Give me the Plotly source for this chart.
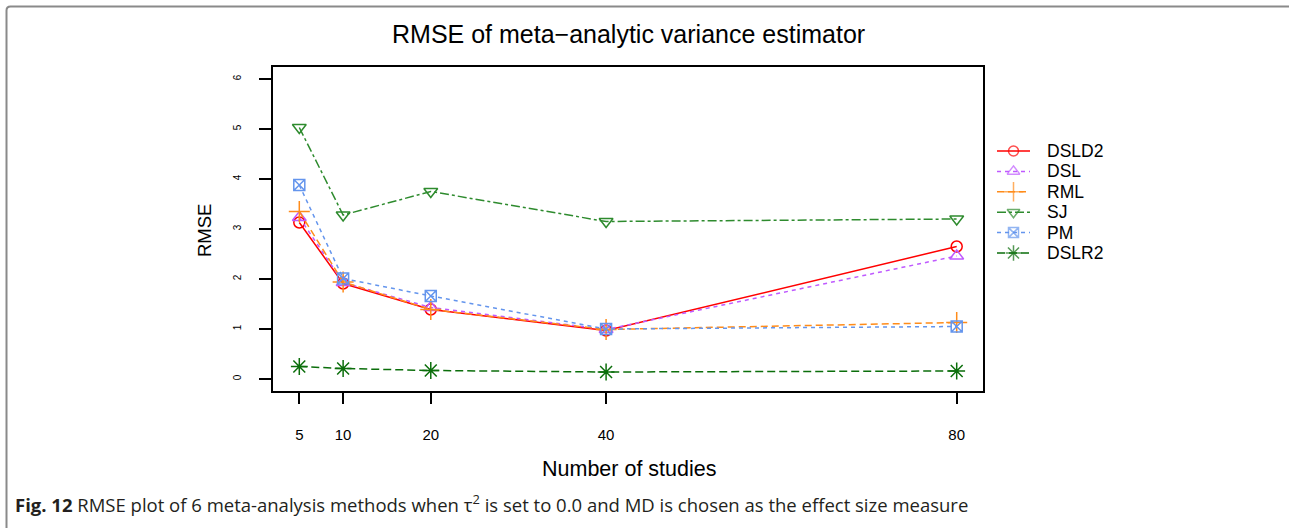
import plotly.graph_objects as go

studies = [5, 10, 20, 40, 80]
dsld2 = [3.13, 1.91, 1.39, 0.97, 2.65]
dsl = [3.23, 1.93, 1.43, 0.99, 2.46]
rml = [3.35, 1.94, 1.39, 0.99, 1.13]
sj = [5.03, 3.28, 3.75, 3.15, 3.20]
pm = [3.88, 2.01, 1.66, 1.00, 1.05]
dslr2 = [0.25, 0.21, 0.17, 0.14, 0.16]

names = ["DSLD2", "DSL", "RML", "SJ", "PM", "DSLR2"]
values = [dsld2, dsl, rml, sj, pm, dslr2]
colors = ["#FF0000", "#BF5AFF", "#FF8C1A", "#2E8B2E", "#6495ED", "#0B6E0B"]
dashes = ["solid", "4px,4px", "7px,4px", "dashdot", "4px,4px", "8px,4px"]
symbols = ["circle-open", "triangle-up-open", "cross-thin-open",
           "triangle-down-open", "square-x-open", "asterisk-open"]
sizes = [11, 12, 15, 12, 11, 14]

W, H = 1289, 528
PL, PR, PT, PB = 273, 983, 67, 391   # plot frame in pixels


def fx(p):
    return p / W


def fy(p):
    return 1 - p / H


fig = go.Figure()
for n, v, c, d, s, z in zip(names, values, colors, dashes, symbols, sizes):
    fig.add_trace(go.Scatter(
        x=studies, y=v, name=n, mode="lines+markers", showlegend=False,
        line=dict(color=c, width=1.5, dash=d),
        marker=dict(symbol=s, size=z, color=c, line=dict(color=c, width=1.5)),
        xaxis="x", yaxis="y",
    ))

# manual legend (pixel coordinate overlay axes)
leg_y0, leg_dy = 151, 20.4
leg_x0, leg_x1 = 997, 1030
font = "Liberation Sans, Arial, sans-serif"
annotations = []
for i, (n, c, d, s, z) in enumerate(zip(names, colors, dashes, symbols, sizes)):
    yy = leg_y0 + i * leg_dy
    fig.add_trace(go.Scatter(
        x=[leg_x0, (leg_x0 + leg_x1) / 2, leg_x1], y=[yy, yy, yy],
        mode="lines+markers", showlegend=False, hoverinfo="skip",
        line=dict(color=c, width=1.5, dash=d),
        marker=dict(symbol=s, size=[0, z - 1, 0], color=c, line=dict(color=c, width=1.5)),
        xaxis="x2", yaxis="y2", cliponaxis=False,
    ))
    annotations.append(dict(text=n, xref="paper", yref="paper", x=fx(1045), y=fy(yy),
                            xanchor="left", yanchor="middle", showarrow=False,
                            font=dict(family=font, size=17.5, color="black")))

annotations += [
    dict(text="RMSE of meta\u2212analytic variance estimator", xref="paper", yref="paper",
         x=fx((PL + PR) / 2), y=fy(34), xanchor="center", yanchor="middle", showarrow=False,
         font=dict(family=font, size=25, color="black")),
    dict(text="RMSE", xref="paper", yref="paper", x=fx(204), y=fy(231),
         xanchor="center", yanchor="middle", textangle=-90, showarrow=False,
         font=dict(family=font, size=18.5, color="black")),
    dict(text="Number of studies", xref="paper", yref="paper", x=fx(629), y=fy(469),
         xanchor="center", yanchor="middle", showarrow=False,
         font=dict(family=font, size=21.5, color="black")),
    dict(text="<b>Fig. 12</b> RMSE plot of 6 meta-analysis methods when \u03c4<sup>2</sup> is set to 0.0 and MD is chosen as the effect size measure",
         xref="paper", yref="paper", x=fx(13), y=fy(503), xanchor="left", yanchor="middle",
         showarrow=False, font=dict(family="Open Sans, sans-serif", size=18.5, color="#231F20")),
]

fig.update_layout(
    width=W, height=H,
    margin=dict(l=0, r=0, t=0, b=0),
    paper_bgcolor="white", plot_bgcolor="rgba(0,0,0,0)",
    showlegend=False,
    xaxis=dict(domain=[fx(PL), fx(PR)], range=[2, 83], tickvals=studies,
               ticktext=[str(s) for s in studies], anchor="y",
               showgrid=False, zeroline=False, showline=True, mirror=True,
               linecolor="black", linewidth=1.5, ticks="outside", ticklen=11,
               tickwidth=1.5, tickcolor="black", ticklabelstandoff=18,
               tickfont=dict(family=font, size=15, color="black")),
    yaxis=dict(domain=[fy(PB), fy(PT)], range=[-0.24, 6.24], tickvals=[0, 1, 2, 3, 4, 5, 6],
               anchor="x",
               showgrid=False, zeroline=False, showline=True, mirror=True,
               linecolor="black", linewidth=1.5, ticks="outside", ticklen=12,
               tickwidth=1.5, tickcolor="black", tickangle=-90, ticklabelstandoff=14,
               tickfont=dict(family=font, size=10, color="black")),
    xaxis2=dict(domain=[0, 1], range=[0, W], visible=False, anchor="y2", fixedrange=True),
    yaxis2=dict(domain=[0, 1], range=[H, 0], visible=False, anchor="x2", fixedrange=True),
    annotations=annotations,
    shapes=[
        dict(type="path", xref="paper", yref="paper",
             path=f"M {fx(6.5)},{fy(540)} L {fx(6.5)},{fy(10.5)} Q {fx(6.5)},{fy(6.5)} {fx(10.5)},{fy(6.5)} L {fx(1300)},{fy(6.5)}",
             line=dict(color="#8A8A8A", width=2)),
    ],
)

fig.write_html("out.html")
